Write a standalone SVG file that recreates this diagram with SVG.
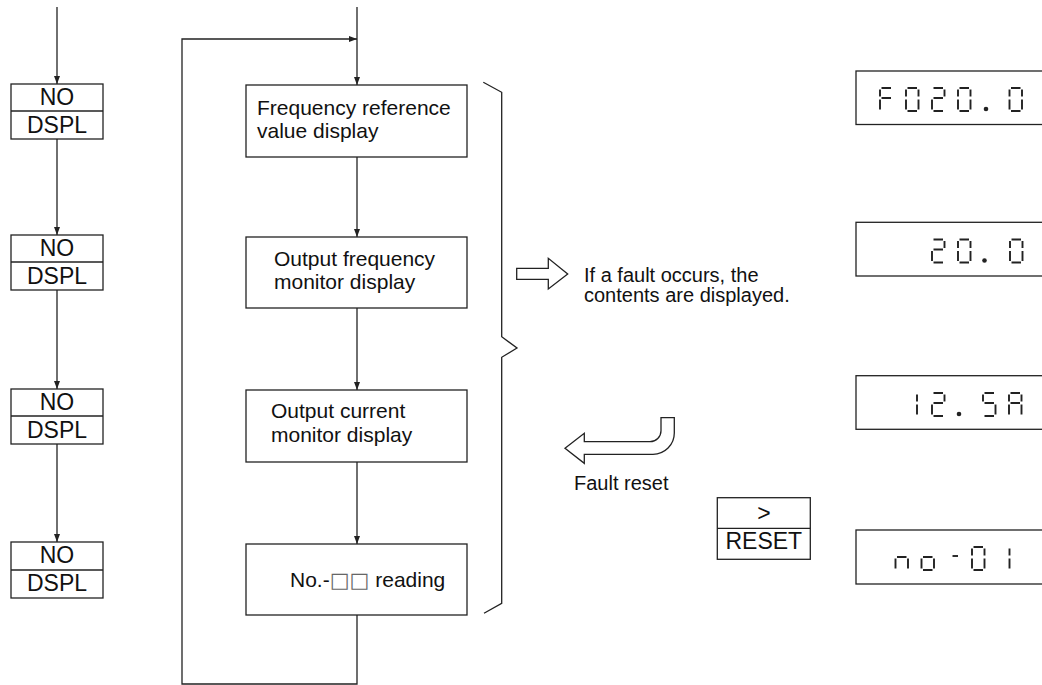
<svg xmlns="http://www.w3.org/2000/svg" width="1042" height="685" viewBox="0 0 1042 685">
<style>
.box{fill:#fff;stroke:#222;stroke-width:1.3}
.ln{fill:none;stroke:#222;stroke-width:1.3}
.t{font-family:"Liberation Sans",Arial,sans-serif;fill:#111}
.k{font-size:23px;text-anchor:middle}
.m{font-size:21px}
.s{font-size:20px}
.sq{font-family:"DejaVu Sans",sans-serif;fill:#666}
.seg{fill:none;stroke:#222;stroke-width:1.9}
.dot{fill:#222}
</style>
<defs>
<marker id="ah" markerWidth="8" markerHeight="6" refX="8" refY="3" orient="auto" markerUnits="userSpaceOnUse">
<path d="M0,0 L8,3 L0,6 z" fill="#222"/>
</marker>
<path id="d0" class="seg" d="M1.5 0H11M12.5 1.5V8.5M12.5 11.5V21.5M1.5 23H11M0 11.5V21.5M0 1.5V8.5"/>
<path id="d2" class="seg" d="M1.5 0H11M12.5 1.5V8.5M1.5 10H11M0 11.5V21.5M1.5 23H11"/>
<path id="dF" class="seg" d="M1.5 0H11M0 1.5V8.5M1.5 10H11M0 11.5V21.5"/>
<path id="d5" class="seg" d="M1.5 0H11M0 1.5V8.5M1.5 10H11M12.5 11.5V21.5M1.5 23H11"/>
<path id="dA" class="seg" d="M1.5 0H11M12.5 1.5V8.5M12.5 11.5V21.5M0 11.5V21.5M0 1.5V8.5M1.5 10H11"/>
<path id="d1" class="seg" d="M12.5 1.5V8.5M12.5 11.5V21.5"/>
<path id="dn" class="seg" d="M1.5 10H11M12.5 11.5V21.5M0 11.5V21.5"/>
<path id="do" class="seg" d="M1.5 10H11M12.5 11.5V21.5M1.5 23H11M0 11.5V21.5"/>
<path id="dm" class="seg" d="M5.5 9H11"/>
</defs>
<rect width="1042" height="685" fill="#fff"/>

<g id="connectors">
<line class="ln" x1="57" y1="7" x2="57" y2="84" marker-end="url(#ah)"/>
<line class="ln" x1="57" y1="139" x2="57" y2="235" marker-end="url(#ah)"/>
<line class="ln" x1="57" y1="290" x2="57" y2="389" marker-end="url(#ah)"/>
<line class="ln" x1="57" y1="444" x2="57" y2="542" marker-end="url(#ah)"/>
<line class="ln" x1="357" y1="7" x2="357" y2="85" marker-end="url(#ah)"/>
<line class="ln" x1="357" y1="157" x2="357" y2="237" marker-end="url(#ah)"/>
<line class="ln" x1="357" y1="308" x2="357" y2="390" marker-end="url(#ah)"/>
<line class="ln" x1="357" y1="462" x2="357" y2="544" marker-end="url(#ah)"/>
<path class="ln" d="M357 615 V684 H182 V39 H357" marker-end="url(#ah)"/>
</g>

<g id="no-dspl-1">
<rect class="box" x="11" y="84" width="92" height="55"/>
<line class="ln" x1="11" y1="111" x2="103" y2="111"/>
<text class="t k" x="57" y="105.3">NO</text>
<text class="t k" x="57" y="132.5">DSPL</text>
</g>
<g id="no-dspl-2">
<rect class="box" x="11" y="235" width="92" height="55"/>
<line class="ln" x1="11" y1="262" x2="103" y2="262"/>
<text class="t k" x="57" y="256.3">NO</text>
<text class="t k" x="57" y="283.5">DSPL</text>
</g>
<g id="no-dspl-3">
<rect class="box" x="11" y="389" width="92" height="55"/>
<line class="ln" x1="11" y1="416" x2="103" y2="416"/>
<text class="t k" x="57" y="410.3">NO</text>
<text class="t k" x="57" y="437.5">DSPL</text>
</g>
<g id="no-dspl-4">
<rect class="box" x="11" y="542" width="92" height="56"/>
<line class="ln" x1="11" y1="570" x2="103" y2="570"/>
<text class="t k" x="57" y="563.3">NO</text>
<text class="t k" x="57" y="591">DSPL</text>
</g>

<g id="freq-ref">
<rect class="box" x="246" y="85" width="221" height="72"/>
<text class="t m" x="257" y="114.5">Frequency reference</text>
<text class="t m" x="257" y="137.5">value display</text>
</g>
<g id="out-freq">
<rect class="box" x="246" y="237" width="221" height="71"/>
<text class="t m" x="274" y="265.7">Output frequency</text>
<text class="t m" x="274" y="288.5">monitor display</text>
</g>
<g id="out-cur">
<rect class="box" x="246" y="390" width="221" height="72"/>
<text class="t m" x="271" y="418.3">Output current</text>
<text class="t m" x="271" y="441.7">monitor display</text>
</g>
<g id="no-reading">
<rect class="box" x="246" y="544" width="221" height="71"/>
<text class="t m" x="290" y="586.7">No.-<tspan class="sq">□□</tspan> reading</text>
</g>

<g id="brace">
<path class="ln" d="M483.3 82.3 L501.7 92.3 L501.7 336.7 L517 348 L501.7 357.3 L501.7 603.3 L484 613.3"/>
</g>

<g id="fault-arrow">
<path class="ln" d="M516.7 268.3 H548.3 V258.3 L567.7 274 L548.3 289 V279.3 H516.7 Z"/>
<text class="t s" x="584" y="281.5">If a fault occurs, the</text>
<text class="t s" x="584" y="301.5">contents are displayed.</text>
</g>

<g id="reset-arrow">
<path class="ln" d="M565 448.3 L584.3 433.3 V441.7 H650 A11 11 0 0 0 661 430.7 V417.7 H674.3 V433 A21.3 21.3 0 0 1 653 454.3 H584.3 V463.3 Z"/>
<text class="t s" x="574" y="490">Fault reset</text>
</g>

<g id="reset-key">
<rect class="box" x="717.3" y="497.7" width="93" height="61.6"/>
<line class="ln" x1="717.3" y1="528.3" x2="810.3" y2="528.3"/>
<text class="t k" x="764" y="521">&gt;</text>
<text class="t k" x="763.8" y="549">RESET</text>
</g>

<g id="display-1">
<rect class="box" x="856" y="71" width="200" height="53.5"/>
<use href="#dF" x="880" y="88"/>
<use href="#d0" x="906" y="88"/>
<use href="#d2" x="932" y="88"/>
<use href="#d0" x="958" y="88"/>
<circle class="dot" cx="986" cy="109" r="2.3"/>
<use href="#d0" x="1009.5" y="88"/>
</g>
<g id="display-2">
<rect class="box" x="856" y="222.3" width="200" height="53.7"/>
<use href="#d2" x="932" y="239.5"/>
<use href="#d0" x="958" y="239.5"/>
<circle class="dot" cx="984.5" cy="260.5" r="2.3"/>
<use href="#d0" x="1010" y="239.5"/>
</g>
<g id="display-3">
<rect class="box" x="856" y="375.7" width="200" height="53.6"/>
<use href="#d1" x="904.5" y="393"/>
<use href="#d2" x="932" y="393"/>
<circle class="dot" cx="959" cy="414" r="2.3"/>
<use href="#d5" x="983" y="393"/>
<use href="#dA" x="1009" y="393"/>
</g>
<g id="display-4">
<rect class="box" x="856" y="530" width="200" height="54"/>
<use href="#dn" x="895.5" y="547"/>
<use href="#do" x="921.5" y="547"/>
<use href="#dm" x="947" y="547"/>
<use href="#d0" x="972" y="547"/>
<use href="#d1" x="997" y="547"/>
</g>
</svg>
